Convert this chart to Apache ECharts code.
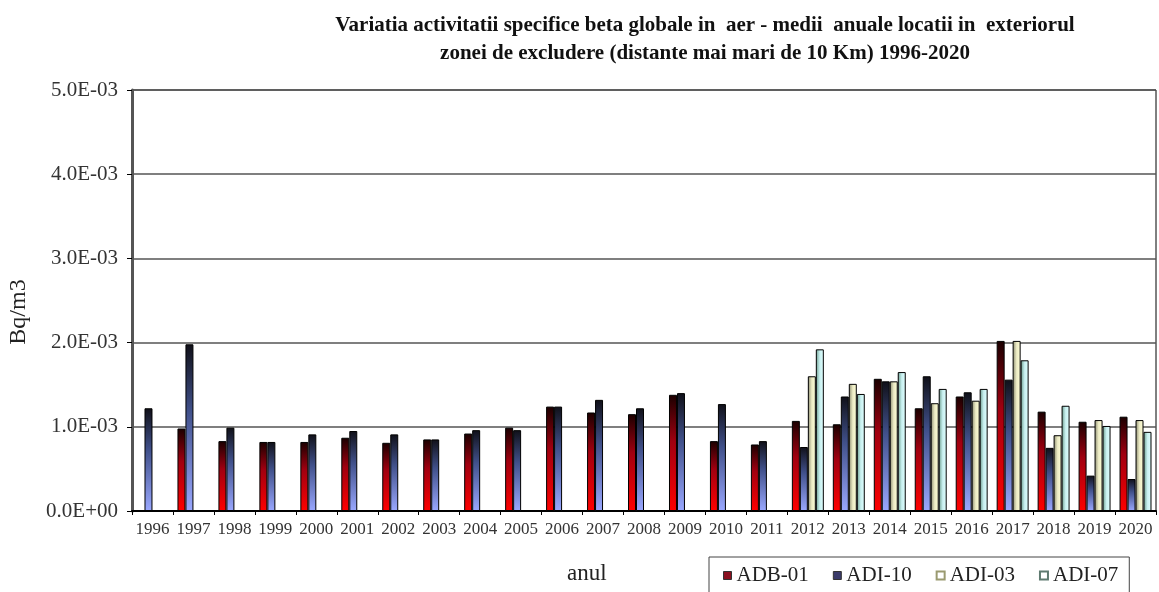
<!DOCTYPE html>
<html>
<head>
<meta charset="utf-8">
<script src="https://cdn.jsdelivr.net/npm/echarts@6/dist/echarts.min.js"></script>
<style>
  html, body { margin: 0; padding: 0; background: #fff; }
  #chart { width: 1159px; height: 592px; }
</style>
</head>
<body>
<div id="chart"></div>
<script>
// ani
const years = ['1996', '1997', '1998', '1999', '2000', '2001', '2002', '2003', '2004', '2005',
  '2006', '2007', '2008', '2009', '2010', '2011', '2012', '2013', '2014', '2015',
  '2016', '2017', '2018', '2019', '2020']

// valori Bq/m3
const adb01 = [null, 0.00098, 0.00083, 0.00082, 0.00082, 0.00087, 0.00081, 0.00085, 0.00092, 0.00099,
  0.00124, 0.00117, 0.00115, 0.00138, 0.00083, 0.00079, 0.00107, 0.00103, 0.00157, 0.00122,
  0.00136, 0.00202, 0.00118, 0.00106, 0.00112]
const adi10 = [0.00122, 0.00198, 0.00099, 0.00082, 0.00091, 0.00095, 0.00091, 0.00085, 0.00096, 0.00096,
  0.00124, 0.00132, 0.00122, 0.00140, 0.00127, 0.00083, 0.00076, 0.00136, 0.00154, 0.00160,
  0.00141, 0.00156, 0.00075, 0.00042, 0.00038]
const adi03 = [null, null, null, null, null, null, null, null, null, null,
  null, null, null, null, null, null, 0.00160, 0.00151, 0.00154, 0.00128,
  0.00131, 0.00202, 0.00090, 0.00108, 0.00108]
const adi07 = [null, null, null, null, null, null, null, null, null, null,
  null, null, null, null, null, null, 0.00192, 0.00139, 0.00165, 0.00145,
  0.00145, 0.00179, 0.00125, 0.00101, 0.00094]

const serif = '"Liberation Serif", "DejaVu Serif", serif'

const chart = echarts.init(document.getElementById('chart'))

// format 5.0E-03
const fmtExp = (v) => {
  if (v === 0) return '0.0E+00'
  const e = Math.floor(Math.log10(v) + 1e-9)
  const m = v / Math.pow(10, e)
  return m.toFixed(1) + 'E' + (e < 0 ? '-' : '+') + String(Math.abs(e)).padStart(2, '0')
}

const vGrad = (stops) => new echarts.graphic.LinearGradient(0, 0, 0, 1, stops)
const hGrad = (stops) => new echarts.graphic.LinearGradient(0, 0, 1, 0, stops)

const barSeries = (name, data, color) => ({
  name: name,
  type: 'bar',
  data: data,
  barGap: '0%',
  barCategoryGap: '22%',
  itemStyle: {
    color: color,
    borderColor: '#000',
    borderWidth: 1
  }
})

const option = {
  backgroundColor: '#fff',
  animation: false,
  title: {
    text: 'Variatia activitatii specifice beta globale in  aer - medii  anuale locatii in  exteriorul\nzonei de excludere (distante mai mari de 10 Km) 1996-2020',
    left: 700,
    top: 7,
    textAlign: 'center',
    textStyle: {
      fontFamily: serif,
      fontSize: 21,
      fontWeight: 'bold',
      color: '#111',
      lineHeight: 28
    }
  },
  legend: {
    left: 709,
    top: 557,
    orient: 'horizontal',
    itemWidth: 8,
    itemHeight: 8,
    itemGap: 24,
    padding: [8, 11, 30, 14],
    borderColor: '#444',
    borderWidth: 1,
    icon: 'rect',
    textStyle: {
      fontFamily: serif,
      fontSize: 21,
      color: '#222'
    },
    data: [
      { name: 'ADB-01', itemStyle: { color: '#8a1020', borderColor: '#333', borderWidth: 1 } },
      { name: 'ADI-10', itemStyle: { color: '#3a3a6a', borderColor: '#333', borderWidth: 1 } },
      { name: 'ADI-03', itemStyle: { color: '#fff', borderColor: '#9a9a70', borderWidth: 2 } },
      { name: 'ADI-07', itemStyle: { color: '#fff', borderColor: '#5f7a70', borderWidth: 2 } }
    ]
  },
  grid: {
    left: 132,
    right: 3,
    top: 90,
    bottom: 81,
    show: true,
    borderColor: '#000',
    borderWidth: 1
  },
  xAxis: {
    type: 'category',
    data: years,
    axisLine: { lineStyle: { color: '#000', width: 2 } },
    axisTick: { show: true, length: 4, lineStyle: { color: '#000' } },
    axisLabel: {
      interval: 0,
      margin: 10,
      fontFamily: serif,
      fontSize: 17,
      color: '#333'
    }
  },
  yAxis: {
    type: 'value',
    min: 0,
    max: 0.005,
    interval: 0.001,
    axisLine: { show: true, lineStyle: { color: '#555', width: 3 } },
    axisTick: { show: true, length: 5, lineStyle: { color: '#000' } },
    axisLabel: {
      margin: 14,
      fontFamily: serif,
      fontSize: 21,
      color: '#333',
      formatter: fmtExp
    },
    splitLine: { lineStyle: { color: '#555', width: 1.5 } }
  },
  graphic: [
    {
      type: 'text',
      x: 19,
      y: 312,
      rotation: Math.PI / 2,
      style: {
        text: 'Bq/m3',
        fontFamily: serif,
        fontSize: 24,
        fill: '#222',
        textAlign: 'center',
        textVerticalAlign: 'middle'
      }
    },
    {
      type: 'text',
      left: 567,
      top: 562,
      style: {
        text: 'anul',
        fontFamily: serif,
        fontSize: 23,
        fill: '#222'
      }
    }
  ],
  series: [
    barSeries('ADB-01', adb01, vGrad([
      { offset: 0, color: '#1a0000' },
      { offset: 0.4, color: '#a00010' },
      { offset: 1, color: '#ff0000' }
    ])),
    barSeries('ADI-10', adi10, vGrad([
      { offset: 0, color: '#101018' },
      { offset: 0.4, color: '#40508a' },
      { offset: 1, color: '#9aa8ff' }
    ])),
    barSeries('ADI-03', adi03, hGrad([
      { offset: 0, color: '#8a8a70' },
      { offset: 0.5, color: '#ecebc4' },
      { offset: 1, color: '#ffffd8' }
    ])),
    barSeries('ADI-07', adi07, hGrad([
      { offset: 0, color: '#6a9a8a' },
      { offset: 0.5, color: '#c8f0f0' },
      { offset: 1, color: '#e2ffff' }
    ]))
  ]
}

chart.setOption(option)
</script>
</body>
</html>
